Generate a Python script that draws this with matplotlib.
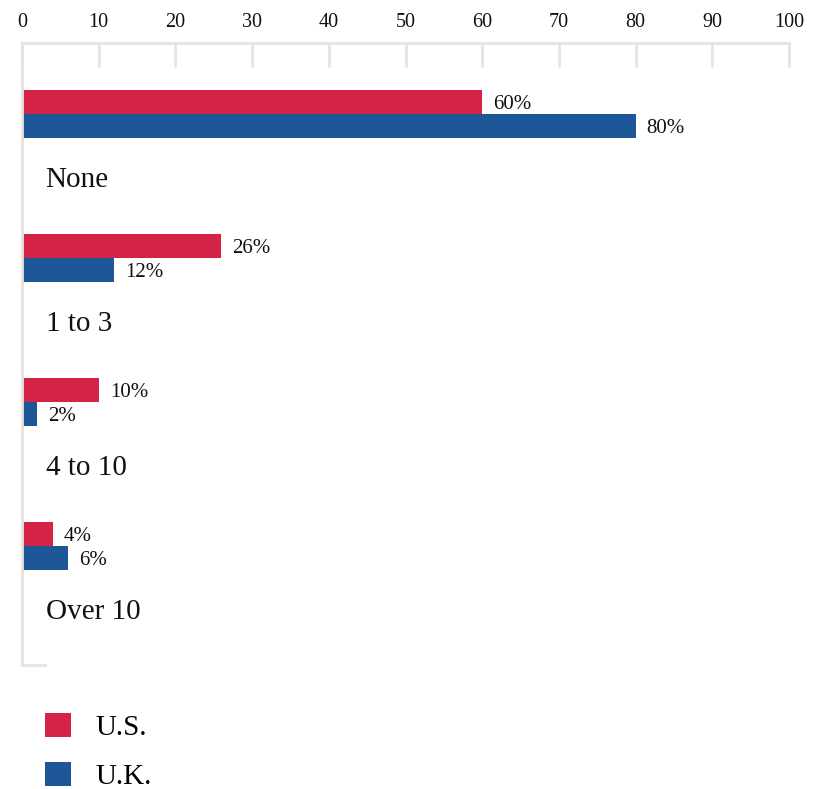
"""Bar chart: number of items, U.S. vs U.K."""

import matplotlib

matplotlib.use("Agg")
import matplotlib.pyplot as plt
from matplotlib.patches import Patch

categories = ["None", "1 to 3", "4 to 10", "Over 10"]
us_values = [60, 26, 10, 4]
uk_values = [80, 12, 2, 6]
series_names = ["U.S.", "U.K."]
x_ticks = [0, 10, 20, 30, 40, 50, 60, 70, 80, 90, 100]

RED = "#d52348"
BLUE = "#1e5797"
AXIS = "#e9e3dc"

plt.rcParams["font.family"] = ["Liberation Serif", "DejaVu Serif"]

W, H = 813, 789
fig = plt.figure(figsize=(W / 100, H / 100), dpi=100)
# axes box in pixels: x 22..789, y 43..665
ax = fig.add_axes([22 / W, 1 - 665 / H, (789 - 22) / W, (665 - 43) / H])

bar_h = 24 / 144
pos = list(range(len(categories)))
ax.barh([p for p in pos], us_values, height=bar_h, color=RED, linewidth=0)
ax.barh([p + bar_h for p in pos], uk_values, height=bar_h, color=BLUE, linewidth=0)

for p, v in zip(pos, us_values):
    ax.annotate(f"{v}%", (v, p), xytext=(8, -2), textcoords="offset points",
                va="center", ha="left", fontsize=15, color="#111111")
for p, v in zip(pos, uk_values):
    ax.annotate(f"{v}%", (v, p + bar_h), xytext=(8, -2), textcoords="offset points",
                va="center", ha="left", fontsize=15, color="#111111")
for p, name in zip(pos, categories):
    ax.annotate(name, (0, p + 78 / 144), xytext=(17, 0), textcoords="offset points",
                va="center", ha="left", fontsize=21, color="#111111")

ax.set_xlim(0, 100)
ax.set_ylim((665 - 102) / 144, (43 - 102) / 144)

ax.xaxis.tick_top()
ax.set_xticks(x_ticks)
ax.set_xticklabels([str(t) for t in x_ticks], fontsize=14.5, color="#111111")
ax.tick_params(axis="x", direction="in", length=17, width=2, color=AXIS, pad=8)
ax.set_yticks([])

ax.spines["right"].set_visible(False)
for side in ("top", "left", "bottom"):
    ax.spines[side].set_color(AXIS)
    ax.spines[side].set_linewidth(2)
ax.spines["bottom"].set_bounds(0, 3)

handles = [Patch(facecolor=RED, edgecolor="none"), Patch(facecolor=BLUE, edgecolor="none")]
fig.legend(handles, series_names, loc="upper left", bbox_to_anchor=(45 / W, 1 - 713 / H),
           frameon=False, fontsize=21, handlelength=0.9, handleheight=0.9,
           handletextpad=0.82, labelspacing=0.72, borderpad=0, borderaxespad=0)

fig.savefig("out.png", dpi=100)
